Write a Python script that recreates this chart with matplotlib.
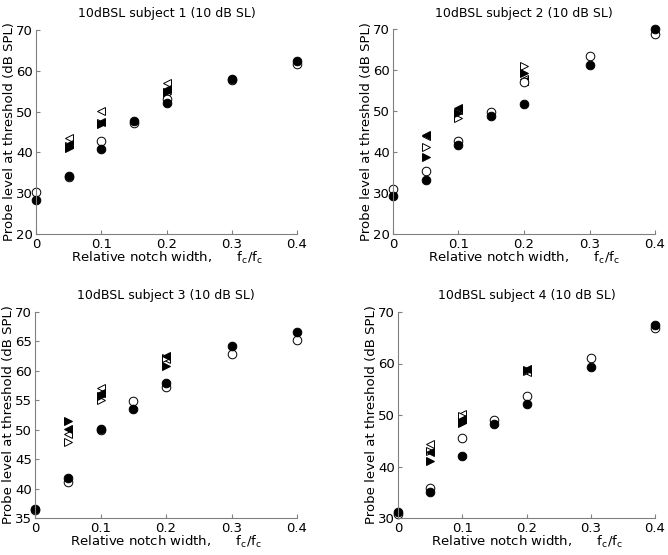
import matplotlib
matplotlib.use("Agg")
import matplotlib.pyplot as plt

plt.rcParams['font.family'] = ['DejaVu Sans']

x_sym = [0, 0.05, 0.1, 0.15, 0.2, 0.3, 0.4]
x_asym = [0.05, 0.1, 0.2]

titles = ["10dBSL subject 1 (10 dB SL)", "10dBSL subject 2 (10 dB SL)",
          "10dBSL subject 3 (10 dB SL)", "10dBSL subject 4 (10 dB SL)"]

# symmetric notch: filled and open circles
s1_fill = [28.4, 34.1, 40.8, 47.7, 52.1, 57.9, 62.3]
s1_open = [30.3, 34.0, 42.8, 47.3, 53.2, 57.8, 61.7]
s2_fill = [29.3, 33.1, 41.8, 48.7, 51.7, 61.1, 70.1]
s2_open = [31.0, 35.4, 42.8, 49.7, 57.1, 63.3, 68.8]
s3_fill = [36.5, 41.8, 50.2, 53.5, 58.0, 64.2, 66.6]
s3_open = [36.4, 41.2, 49.9, 54.9, 57.3, 62.9, 65.2]
s4_fill = [31.2, 35.0, 42.0, 48.3, 52.2, 59.4, 67.5]
s4_open = [30.8, 35.9, 45.5, 49.1, 53.7, 61.0, 66.9]

# asymmetric notch: triangles (left/right, filled/open)
s1_lf = [42.0, 47.5, 55.6]
s1_lo = [43.6, 50.2, 57.0]
s1_rf = [41.0, 47.0, 54.8]
s1_ro = [41.5, 47.3, 54.2]
s2_lf = [44.2, 50.7, 57.2]
s2_lo = [44.0, 50.2, 57.8]
s2_rf = [38.9, 49.5, 59.3]
s2_ro = [41.1, 48.3, 60.9]
s3_lf = [50.1, 56.3, 62.6]
s3_lo = [49.3, 57.1, 62.0]
s3_rf = [51.5, 55.8, 60.9]
s3_ro = [47.9, 55.0, 62.2]
s4_lf = [42.8, 49.2, 58.9]
s4_lo = [44.3, 50.1, 58.4]
s4_rf = [41.0, 48.4, 58.7]
s4_ro = [43.0, 49.9, 58.6]

subjects = [
    (s1_fill, s1_open, s1_lf, s1_lo, s1_rf, s1_ro),
    (s2_fill, s2_open, s2_lf, s2_lo, s2_rf, s2_ro),
    (s3_fill, s3_open, s3_lf, s3_lo, s3_rf, s3_ro),
    (s4_fill, s4_open, s4_lf, s4_lo, s4_rf, s4_ro),
]
ylims = [(20, 70), (20, 70), (35, 70), (30, 70)]
yticks = [[20, 30, 40, 50, 60, 70], [20, 30, 40, 50, 60, 70],
          [35, 40, 45, 50, 55, 60, 65, 70], [30, 40, 50, 60, 70]]
xticks = [0, 0.1, 0.2, 0.3, 0.4]
xticklabels = ["0", "0.1", "0.2", "0.3", "0.4"]

W, H = 668, 555
boxes = [(36, 30, 297, 234), (393, 29, 655, 234), (35, 312, 297, 518), (398, 312, 655, 518)]

fig = plt.figure(figsize=(6.68, 5.55), dpi=100)
ms = 6.2
for i, (data, box) in enumerate(zip(subjects, boxes)):
    l, t, r, b = box
    ax = fig.add_axes([l / W, 1 - b / H, (r - l) / W, (b - t) / H])
    fill, opn, lf, lo, rf, ro = data
    ax.plot(x_asym, lo, linestyle='none', marker='<', mfc='white', mec='black', ms=ms, mew=0.7, clip_on=False)
    ax.plot(x_asym, ro, linestyle='none', marker='>', mfc='white', mec='black', ms=ms, mew=0.7, clip_on=False)
    ax.plot(x_asym, lf, linestyle='none', marker='<', mfc='black', mec='black', ms=ms, mew=0.7, clip_on=False)
    ax.plot(x_asym, rf, linestyle='none', marker='>', mfc='black', mec='black', ms=ms, mew=0.7, clip_on=False)
    ax.plot(x_sym, opn, linestyle='none', marker='o', mfc='white', mec='black', ms=ms, mew=0.7, clip_on=False)
    ax.plot(x_sym, fill, linestyle='none', marker='o', mfc='black', mec='black', ms=ms, mew=0.7, clip_on=False)
    ax.set_xlim(0, 0.4)
    ax.set_ylim(*ylims[i])
    ax.set_xticks(xticks)
    ax.set_xticklabels(xticklabels)
    ax.set_yticks(yticks[i])
    for s in ['top', 'right']:
        ax.spines[s].set_visible(False)
    for s in ['left', 'bottom']:
        ax.spines[s].set_color('#808080')
        ax.spines[s].set_linewidth(0.8)
    ax.tick_params(direction='in', length=3, color='#808080', labelsize=9.5)
    ax.tick_params(axis='x', pad=3)
    ax.tick_params(axis='y', pad=2)
    ax.set_title(titles[i], fontsize=9, pad=9)
    ax.set_ylabel("Probe level at threshold (dB SPL)", fontsize=9.5, labelpad=0)
    ax.set_xlabel("Relative notch width,      f$_\\mathregular{c}$/f$_\\mathregular{c}$", fontsize=9.5, labelpad=-1)

fig.savefig("out.png", dpi=100)
